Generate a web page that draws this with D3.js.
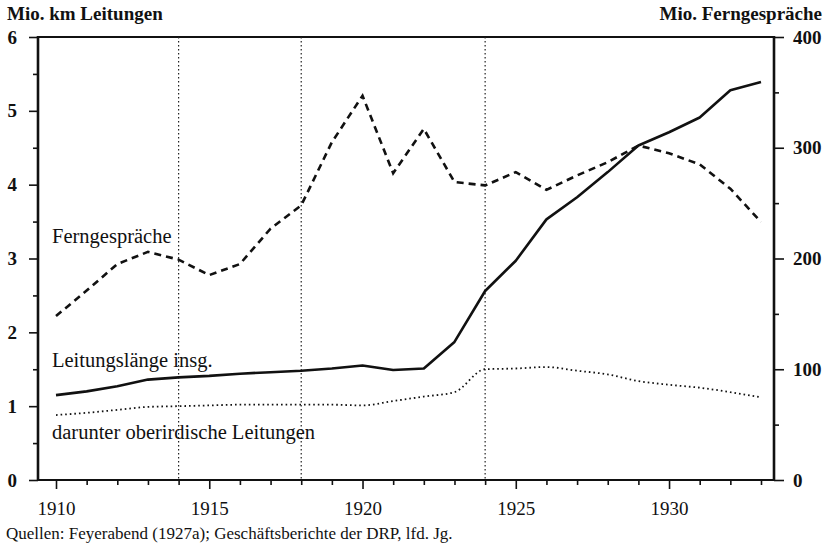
<!DOCTYPE html>
<html>
<head>
<meta charset="utf-8">
<script src="https://cdn.jsdelivr.net/npm/d3@7"></script>
<style>
  body { margin: 0; background: #fff; }
  text { font-family: "Liberation Serif", "Times New Roman", serif; fill: #111; }
</style>
</head>
<body>
<div id="chart"></div>
<script>
// Data
const years = [1910, 1911, 1912, 1913, 1914, 1915, 1916, 1917, 1918, 1919, 1920, 1921,
  1922, 1923, 1924, 1925, 1926, 1927, 1928, 1929, 1930, 1931, 1932, 1933];
const leitungenTotal = [1.15, 1.20, 1.27, 1.36, 1.39, 1.41, 1.44, 1.46, 1.48, 1.51, 1.55, 1.49,
  1.51, 1.87, 2.56, 2.97, 3.53, 3.83, 4.17, 4.53, 4.71, 4.91, 5.28, 5.39];
const leitungenOberirdisch = [0.88, 0.91, 0.95, 0.99, 1.00, 1.01, 1.02, 1.02, 1.02, 1.02, 1.01, 1.07,
  1.13, 1.19, 1.50, 1.51, 1.53, 1.48, 1.43, 1.34, 1.29, 1.25, 1.19, 1.12];
const ferngespraeche = [148, 171, 195, 206, 199, 185, 195, 227, 248, 305, 347, 277,
  317, 269, 266, 278, 262, 275, 287, 302, 295, 285, 263, 233];
const markerYears = [1914, 1918, 1924];
const leftTicks = [0, 1, 2, 3, 4, 5, 6];
const rightTicks = [0, 100, 200, 300, 400];
const yearTicks = [1910, 1915, 1920, 1925, 1930];

const width = 832, height = 546;
const plotTop = 37, plotBottom = 480, x0 = 38, x1 = 774;

const svg = d3.select("#chart")
  .append("svg")
  .attr("width", width)
  .attr("height", height);

// Scales
const x = d3.scaleLinear().domain([1910, 1933]).range([56, 761]);
const yL = d3.scaleLinear().domain([0, 6]).range([plotBottom, plotTop]);
const yR = d3.scaleLinear().domain([0, 400]).range([plotBottom, plotTop]);

// Frame
svg.append("rect")
  .attr("x", x0).attr("y", plotTop)
  .attr("width", x1 - x0).attr("height", plotBottom - plotTop)
  .attr("fill", "none").attr("stroke", "#111").attr("stroke-width", 2);

// Vertical dotted marker lines
svg.selectAll(".marker")
  .data(markerYears)
  .enter()
  .append("line")
  .attr("x1", d => x(d)).attr("x2", d => x(d))
  .attr("y1", plotTop).attr("y2", plotBottom)
  .attr("stroke", "#222").attr("stroke-width", 1.2)
  .attr("stroke-dasharray", "1.5,2.5");

// Left axis
const leftG = svg.append("g")
  .attr("transform", `translate(${x0},0)`)
  .call(d3.axisLeft(yL).tickValues(leftTicks).tickSize(9).tickPadding(12).tickFormat(d3.format("d")));
svg.append("g")
  .attr("transform", `translate(${x0},0)`)
  .call(d3.axisLeft(yL).tickValues(d3.range(0.5, 6, 1)).tickSize(5).tickFormat(""));

// Right axis
const rightG = svg.append("g")
  .attr("transform", `translate(${x1},0)`)
  .call(d3.axisRight(yR).tickValues(rightTicks).tickSize(10).tickPadding(9).tickFormat(d3.format("d")));
svg.append("g")
  .attr("transform", `translate(${x1},0)`)
  .call(d3.axisRight(yR).tickValues(d3.range(50, 400, 100)).tickSize(5).tickFormat(""));

// Bottom axis
const bottomG = svg.append("g")
  .attr("transform", `translate(0,${plotBottom})`)
  .call(d3.axisBottom(x).tickValues(yearTicks).tickSize(9).tickPadding(13).tickFormat(d3.format("d")));
svg.append("g")
  .attr("transform", `translate(0,${plotBottom})`)
  .call(d3.axisBottom(x).tickValues(years.filter(y => !yearTicks.includes(y))).tickSize(5).tickFormat(""));

svg.selectAll(".domain").remove();
svg.selectAll(".tick line").attr("stroke", "#111").attr("stroke-width", 1.6);
svg.selectAll(".tick text").style("font-size", "19px").attr("fill", "#111");
leftG.selectAll(".tick text").style("font-weight", "bold");
rightG.selectAll(".tick text").style("font-weight", "bold");

// Thicker side axes
[x0, x1].forEach(px => {
  svg.append("line")
    .attr("x1", px).attr("x2", px)
    .attr("y1", plotTop - 1).attr("y2", plotBottom + 1)
    .attr("stroke", "#111").attr("stroke-width", 2.6);
});

// Lines
const rows = years.map((yr, i) => ({ yr, tot: leitungenTotal[i], ober: leitungenOberirdisch[i], fg: ferngespraeche[i] }));

svg.append("path")
  .datum(rows)
  .attr("fill", "none").attr("stroke", "#111").attr("stroke-width", 1.8)
  .attr("stroke-dasharray", "1.6,3")
  .attr("d", d3.line().curve(d3.curveMonotoneX).x(d => x(d.yr)).y(d => yL(d.ober)));

svg.append("path")
  .datum(rows)
  .attr("fill", "none").attr("stroke", "#111").attr("stroke-width", 2.6)
  .attr("stroke-linejoin", "round")
  .attr("d", d3.line().x(d => x(d.yr)).y(d => yL(d.tot)));

svg.append("path")
  .datum(rows)
  .attr("fill", "none").attr("stroke", "#111").attr("stroke-width", 2.6)
  .attr("stroke-dasharray", "7,5")
  .attr("d", d3.line().x(d => x(d.yr)).y(d => yR(d.fg)));

// Labels
const label = (txt, px, py, opts = {}) => svg.append("text")
  .attr("x", px).attr("y", py)
  .attr("text-anchor", opts.anchor || "start")
  .style("font-size", (opts.size || 20.5) + "px")
  .style("font-weight", opts.bold ? "bold" : "normal")
  .text(txt);

label("Mio. km Leitungen", 7, 20, { bold: true, size: 19 });
label("Mio. Ferngespräche", 822, 20, { bold: true, size: 19, anchor: "end" });
label("Ferngespräche", 52, 243);
label("Leitungslänge insg.", 52, 367);
label("darunter oberirdische Leitungen", 52, 439);
label("Quellen: Feyerabend (1927a); Geschäftsberichte der DRP, lfd. Jg.", 6, 539, { size: 17 });
</script>
</body>
</html>
